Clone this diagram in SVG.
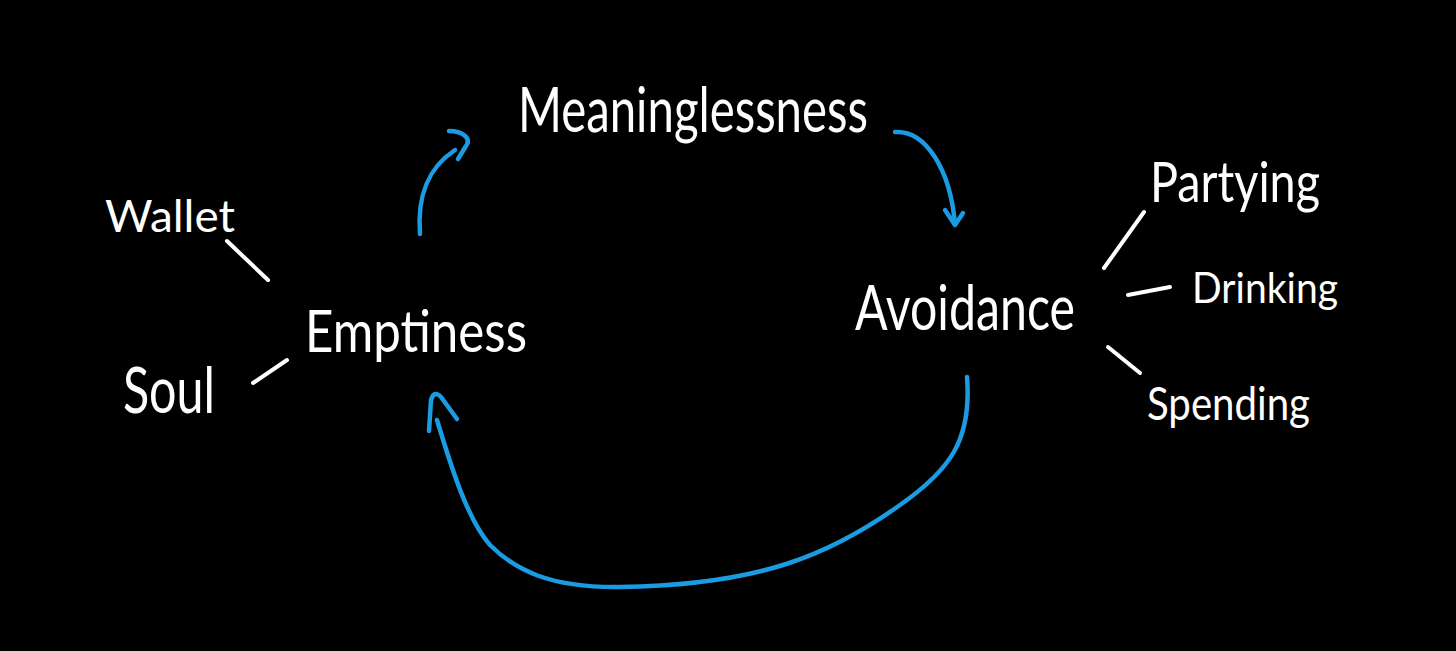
<svg xmlns="http://www.w3.org/2000/svg" width="1456" height="651" viewBox="0 0 1456 651">
<style>
text{fill:#fff;font-family:"Lato","Liberation Sans",sans-serif;font-weight:400}
.tick{stroke:#fff;stroke-width:4;stroke-linecap:round;fill:none}
.flow{stroke:#1a9be2;stroke-width:4.5;stroke-linecap:round;stroke-linejoin:round;fill:none}
</style>
<rect width="1456" height="651" fill="#000"/>
<g id="meaninglessness"><text x="518" y="132" font-size="62" textLength="350" lengthAdjust="spacingAndGlyphs">Meaninglessness</text></g>
<g id="emptiness"><text x="305" y="352" font-size="58" textLength="222" lengthAdjust="spacingAndGlyphs">Emptiness</text></g>
<g id="avoidance"><text x="855" y="330" font-size="62" textLength="220" lengthAdjust="spacingAndGlyphs">Avoidance</text></g>
<g id="wallet"><text x="105" y="232" font-size="44" textLength="130" lengthAdjust="spacingAndGlyphs">Wallet</text></g>
<g id="soul"><text x="123" y="413" font-size="64" textLength="92" lengthAdjust="spacingAndGlyphs">Soul</text></g>
<g id="partying"><text x="1150" y="202" font-size="56" textLength="170" lengthAdjust="spacingAndGlyphs">Partying</text></g>
<g id="drinking"><text x="1192" y="303" font-size="42" textLength="146" lengthAdjust="spacingAndGlyphs">Drinking</text></g>
<g id="spending"><text x="1147" y="420" font-size="46" textLength="163" lengthAdjust="spacingAndGlyphs">Spending</text></g>
<g id="connectors">
<path class="tick" d="M227,241 L268,280"/>
<path class="tick" d="M253,383 L287,360"/>
<path class="tick" d="M1144,212 L1104,268"/>
<path class="tick" d="M1128,295 L1170,287"/>
<path class="tick" d="M1108,347 L1140,373"/>
<path class="flow" d="M420,234 C417,195 428,168 455,150"/>
<path class="flow" d="M449,131 C462,131 472,138 466,146 L458,159"/>
<path class="flow" d="M895,132 C925,130 950,168 955,224"/>
<path class="flow" d="M945,210 L955,225 L963,213"/>
<path class="flow" d="M967,377 C972,440 950,470 900,505 C830,555 760,585 620,587 C550,588 515,570 490,545 C468,520 452,470 437,420"/>
<path class="flow" d="M429,431 L431,400 Q434,390 441,397 L457,419"/>
</g>
</svg>
